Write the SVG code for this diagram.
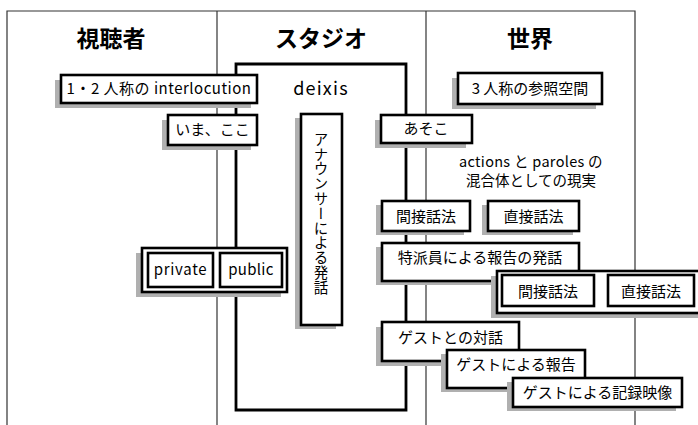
<svg xmlns="http://www.w3.org/2000/svg" width="698" height="425" viewBox="0 0 698 425">
<style>
.frame{fill:none;stroke:#333;stroke-width:1.2}
.studio{fill:none;stroke:#000;stroke-width:2.8}
.box{fill:#fff;stroke:#000;stroke-width:2.6}
.sh{fill:#b0b0b0}
.hd{font-family:"Noto Sans CJK JP","Noto Sans",sans-serif;font-weight:bold;font-size:23px;text-anchor:middle;fill:#000}
.t{font-family:"Noto Sans CJK JP","Noto Sans",sans-serif;font-size:15px;font-weight:normal;text-anchor:middle;fill:#000}
.vt{font-family:"Noto Sans CJK JP","Noto Sans",sans-serif;font-size:14.5px;font-weight:normal;fill:#000;writing-mode:vertical-rl;letter-spacing:0.3px}
</style>
<rect width="698" height="425" fill="#fff"/>
<g id="connectors">
<path class="frame" d="M7,425 V11 H635 V425"/>
<path class="frame" d="M217,11 V425"/>
<path class="frame" d="M426,11 V425"/>
<path class="studio" d="M236,64 H406 V410 H236 Z"/>
</g>
<g id="headers">
<text class="hd" x="111" y="47">視聴者</text>
<text class="hd" x="321" y="47">スタジオ</text>
<text class="hd" x="530" y="47">世界</text>
</g>
<g id="deixis"><text class="t" x="321" y="95" style="font-size:18px;letter-spacing:1.2px">deixis</text></g>
<g id="n-interlocution">
<rect class="sh" x="55" y="80" width="196" height="28"/>
<rect class="box" x="61" y="75" width="196" height="28"/>
<text class="t" x="159" y="94" style="letter-spacing:0.5px">1・2 人称の interlocution</text>
</g>
<g id="n-imakoko">
<rect class="sh" x="162" y="120" width="89" height="30"/>
<rect class="box" x="168" y="115" width="89" height="30"/>
<text class="t" x="212.5" y="135">いま、ここ</text>
</g>
<g id="n-sanninsho">
<rect class="sh" x="452" y="78" width="144" height="31"/>
<rect class="box" x="458" y="73" width="144" height="31"/>
<text class="t" x="530" y="94">3 人称の参照空間</text>
</g>
<g id="n-announcer">
<rect class="sh" x="295" y="118" width="41" height="211"/>
<rect class="box" x="301" y="114" width="41" height="211"/>
<text class="vt" x="321" y="132">アナウンサーによる発話</text>
</g>
<g id="n-asoko">
<rect class="sh" x="375" y="120" width="91" height="28"/>
<rect class="box" x="381" y="115" width="91" height="28"/>
<text class="t" x="426" y="134">あそこ</text>
</g>
<g id="n-actions">
<text class="t" x="531" y="167" style="font-size:14.5px;letter-spacing:0.3px">actions と paroles の</text>
<text class="t" x="531" y="186" style="font-size:14.5px">混合体としての現実</text>
</g>
<g id="n-kansetsu1">
<rect class="sh" x="376" y="205" width="88" height="30"/>
<rect class="box" x="382" y="201" width="88" height="30"/>
<text class="t" x="426" y="222">間接話法</text>
</g>
<g id="n-chokusetsu1">
<rect class="sh" x="482" y="205" width="91" height="30"/>
<rect class="box" x="488" y="201" width="91" height="30"/>
<text class="t" x="533.5" y="222">直接話法</text>
</g>
<g id="n-tokuhain">
<rect class="sh" x="376" y="247" width="197" height="38"/>
<rect class="box" x="382" y="243" width="197" height="38"/>
<text class="t" x="480" y="263">特派員による報告の発話</text>
</g>
<g id="n-wahou2">
<rect class="sh" x="491" y="276" width="215" height="42"/>
<rect class="box" x="497" y="271" width="215" height="42"/>
<rect class="box" x="502" y="275" width="92" height="31"/>
<text class="t" x="548" y="297">間接話法</text>
<rect class="box" x="608" y="275" width="86" height="31"/>
<text class="t" x="651" y="297">直接話法</text>
</g>
<g id="n-privpub">
<rect class="sh" x="136" y="253" width="145" height="44"/>
<rect class="box" x="142" y="248" width="145" height="44"/>
<rect class="box" x="148" y="253" width="65" height="34"/>
<text class="t" x="180.5" y="275" style="letter-spacing:0.7px">private</text>
<rect class="box" x="220" y="253" width="62" height="34"/>
<text class="t" x="251" y="275" style="letter-spacing:0.3px">public</text>
</g>
<g id="n-guest1">
<rect class="sh" x="376" y="327" width="137" height="39"/>
<rect class="box" x="382" y="322" width="137" height="39"/>
<text class="t" x="450.5" y="343">ゲストとの対話</text>
</g>
<g id="n-guest2">
<rect class="sh" x="441" y="354" width="138" height="38"/>
<rect class="box" x="447" y="350" width="138" height="38"/>
<text class="t" x="516" y="370">ゲストによる報告</text>
</g>
<g id="n-guest3">
<rect class="sh" x="507" y="382" width="169" height="29"/>
<rect class="box" x="513" y="378" width="169" height="29"/>
<text class="t" x="597.5" y="398">ゲストによる記録映像</text>
</g>
</svg>
